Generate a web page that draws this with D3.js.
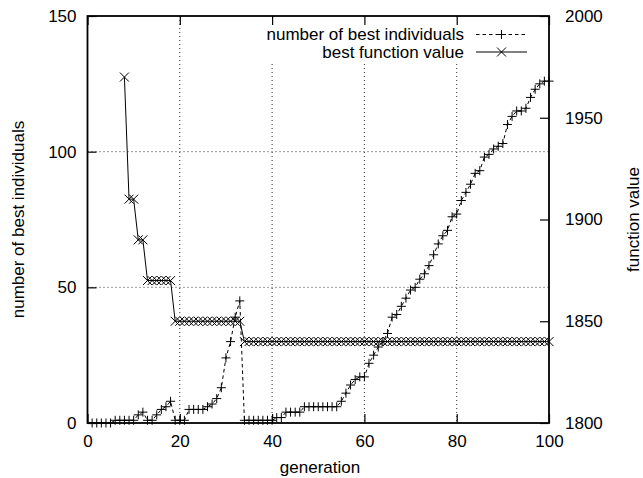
<!DOCTYPE html>
<html>
<head>
<meta charset="utf-8">
<script src="https://cdn.jsdelivr.net/npm/d3@7"></script>
<style>
  body { margin: 0; background: #fff; }
  svg { display: block; font-family: "Liberation Sans", Arial, Helvetica, sans-serif; }
</style>
</head>
<body>
<svg id="chart"></svg>
<script>
// tick values
const xTicks = [0, 20, 40, 60, 80, 100];
const leftTicks = [0, 50, 100, 150];
const rightTicks = [1800, 1850, 1900, 1950, 2000];
const xGrid = [20, 40, 60, 80];
const yGrid = [50, 100];

// number of best individuals, one value per generation (1..100)
const firstCountGen = 1;
const bestCount = [
  0, 0, 0, 0, 0, 1, 1, 1, 1, 1,
  3, 4, 1, 1, 3, 5, 6, 8, 1, 1,
  1, 5, 5, 5, 5, 6, 7, 9, 13, 24,
  30, 39, 45, 1, 1, 1, 1, 1, 1, 1,
  2, 2, 4, 4, 4, 4, 6, 6, 6, 6,
  6, 6, 6, 6, 8, 11, 14, 16, 17, 17,
  22, 25, 28, 30, 33, 39, 40, 43, 46, 49,
  50, 53, 55, 58, 62, 66, 69, 71, 76, 77,
  82, 85, 88, 92, 93, 98, 99, 101, 102, 103,
  110, 113, 115, 115, 116, 120, 123, 125, 126, 126
];

// best function value, one value per generation (8..100)
const firstValueGen = 8;
const bestValue = [
  1970, 1910, 1910, 1890, 1890,
  1870, 1870, 1870, 1870, 1870, 1870,
  1850, 1850, 1850, 1850, 1850, 1850, 1850, 1850, 1850, 1850, 1850, 1850, 1850, 1850, 1850,
  1840, 1840, 1840, 1840, 1840, 1840, 1840, 1840, 1840, 1840,
  1840, 1840, 1840, 1840, 1840, 1840, 1840, 1840, 1840, 1840,
  1840, 1840, 1840, 1840, 1840, 1840, 1840, 1840, 1840, 1840,
  1840, 1840, 1840, 1840, 1840, 1840, 1840, 1840, 1840, 1840,
  1840, 1840, 1840, 1840, 1840, 1840, 1840, 1840, 1840, 1840,
  1840, 1840, 1840, 1840, 1840, 1840, 1840, 1840, 1840, 1840,
  1840, 1840, 1840, 1840, 1840, 1840, 1840
];

const legendLabels = ['number of best individuals', 'best function value'];

class ConvergenceVis {
  constructor(_config) {
    this.config = {
      parentElement: _config.parentElement,
      width: 643,
      height: 478,
      margin: { top: 16, right: 94, bottom: 55, left: 87.5 },
      fontSize: 17,
      tickLen: 9
    };
    this.initVis();
  }

  initVis() {
    const vis = this;
    const c = vis.config;
    vis.innerW = c.width - c.margin.left - c.margin.right;
    vis.innerH = c.height - c.margin.top - c.margin.bottom;

    vis.svg = d3.select(c.parentElement)
      .attr('width', c.width)
      .attr('height', c.height);

    vis.chart = vis.svg.append('g')
      .attr('transform', `translate(${c.margin.left},${c.margin.top})`);

    vis.xScale = d3.scaleLinear().domain([0, 100]).range([0, vis.innerW]);
    vis.yLeft = d3.scaleLinear().domain([0, 150]).range([vis.innerH, 0]);
    vis.yRight = d3.scaleLinear().domain([1800, 2000]).range([vis.innerH, 0]);

    vis.countData = bestCount.map((v, i) => ({ gen: firstCountGen + i, v }));
    vis.valueData = bestValue.map((v, i) => ({ gen: firstValueGen + i, v }));

    vis.renderVis();
  }

  styleAxis(g) {
    const c = this.config;
    g.select('.domain').remove();
    g.attr('font-size', null).attr('font-family', null);
    g.selectAll('line').attr('stroke', '#000').attr('stroke-width', 1.2);
    g.selectAll('text').attr('font-size', c.fontSize).attr('fill', '#000');
  }

  renderVis() {
    const vis = this;
    const c = vis.config;
    const W = vis.innerW, H = vis.innerH;

    // grid
    const grid = vis.chart.append('g')
      .attr('stroke', '#333')
      .attr('stroke-width', 1)
      .attr('stroke-dasharray', '1,3');
    grid.selectAll('.gx').data(xGrid).join('line')
      .attr('x1', d => vis.xScale(d)).attr('x2', d => vis.xScale(d))
      .attr('y1', 0).attr('y2', H);
    grid.selectAll('.gy').data(yGrid).join('line')
      .attr('x1', 0).attr('x2', W)
      .attr('y1', d => vis.yLeft(d)).attr('y2', d => vis.yLeft(d));

    // number of best individuals: dashed line with + marks
    const countLine = d3.line()
      .x(d => vis.xScale(d.gen))
      .y(d => vis.yLeft(d.v));
    vis.chart.append('path')
      .datum(vis.countData)
      .attr('fill', 'none')
      .attr('stroke', '#000')
      .attr('stroke-width', 1)
      .attr('stroke-dasharray', '3.5,3')
      .attr('d', countLine);

    const plus = 'M-4.5,0H4.5M0,-4.5V4.5';
    const cross = 'M-4.5,-4.5L4.5,4.5M-4.5,4.5L4.5,-4.5';

    vis.chart.append('g').selectAll('path')
      .data(vis.countData)
      .join('path')
      .attr('transform', d => `translate(${vis.xScale(d.gen)},${vis.yLeft(d.v)})`)
      .attr('d', plus)
      .attr('stroke', '#000')
      .attr('stroke-width', 1)
      .attr('fill', 'none');

    // best function value: solid line with x marks
    const valueLine = d3.line()
      .x(d => vis.xScale(d.gen))
      .y(d => vis.yRight(d.v));
    vis.chart.append('path')
      .datum(vis.valueData)
      .attr('fill', 'none')
      .attr('stroke', '#000')
      .attr('stroke-width', 1)
      .attr('d', valueLine);

    vis.chart.append('g').selectAll('path')
      .data(vis.valueData)
      .join('path')
      .attr('transform', d => `translate(${vis.xScale(d.gen)},${vis.yRight(d.v)})`)
      .attr('d', cross)
      .attr('stroke', '#000')
      .attr('stroke-width', 1)
      .attr('fill', 'none');

    // key background (opaque)
    vis.chart.append('rect')
      .attr('x', 250 - c.margin.left).attr('y', 1)
      .attr('width', 285).attr('height', 45)
      .attr('fill', '#fff');

    // axes (ticks point inward)
    vis.chart.append('g')
      .attr('transform', `translate(0,${H})`)
      .call(d3.axisBottom(vis.xScale).tickValues(xTicks)
        .tickSizeInner(-c.tickLen).tickSizeOuter(0).tickPadding(12))
      .call(g => vis.styleAxis(g));

    vis.chart.append('g')
      .call(d3.axisTop(vis.xScale).tickValues(xTicks)
        .tickSizeInner(-c.tickLen).tickSizeOuter(0).tickFormat(''))
      .call(g => vis.styleAxis(g));

    vis.chart.append('g')
      .call(d3.axisLeft(vis.yLeft).tickValues(leftTicks)
        .tickSizeInner(-c.tickLen).tickSizeOuter(0).tickPadding(11))
      .call(g => vis.styleAxis(g));

    vis.chart.append('g')
      .attr('transform', `translate(${W},0)`)
      .call(d3.axisRight(vis.yRight).tickValues(rightTicks)
        .tickFormat(d3.format('d'))
        .tickSizeInner(-c.tickLen).tickSizeOuter(0).tickPadding(16))
      .call(g => vis.styleAxis(g));

    // border
    vis.chart.append('rect')
      .attr('width', W).attr('height', H)
      .attr('fill', 'none')
      .attr('stroke', '#000')
      .attr('stroke-width', 1.8);

    // axis titles
    vis.svg.append('text')
      .attr('x', 320).attr('y', 473)
      .attr('text-anchor', 'middle')
      .attr('font-size', c.fontSize)
      .text('generation');

    vis.svg.append('text')
      .attr('transform', `translate(24,${c.margin.top + H / 2}) rotate(-90)`)
      .attr('text-anchor', 'middle')
      .attr('font-size', c.fontSize)
      .text('number of best individuals');

    vis.svg.append('text')
      .attr('transform', `translate(639,${c.margin.top + H / 2}) rotate(-90)`)
      .attr('text-anchor', 'middle')
      .attr('font-size', c.fontSize)
      .text('function value');

    // key
    const key = vis.svg.append('g');
    const rowsY = [34.5, 52];
    const marks = [plus, cross];
    const dashes = ['3.5,3', null];
    legendLabels.forEach((label, i) => {
      key.append('text')
        .attr('x', 464).attr('y', rowsY[i])
        .attr('dy', '0.35em')
        .attr('text-anchor', 'end')
        .attr('font-size', c.fontSize)
        .text(label);
      key.append('line')
        .attr('x1', 476).attr('x2', 527)
        .attr('y1', rowsY[i]).attr('y2', rowsY[i])
        .attr('stroke', '#000')
        .attr('stroke-width', 1)
        .attr('stroke-dasharray', dashes[i]);
      key.append('path')
        .attr('transform', `translate(501.5,${rowsY[i]})`)
        .attr('d', marks[i])
        .attr('stroke', '#000')
        .attr('stroke-width', 1)
        .attr('fill', 'none');
    });
  }
}

new ConvergenceVis({ parentElement: '#chart' });
</script>
</body>
</html>
